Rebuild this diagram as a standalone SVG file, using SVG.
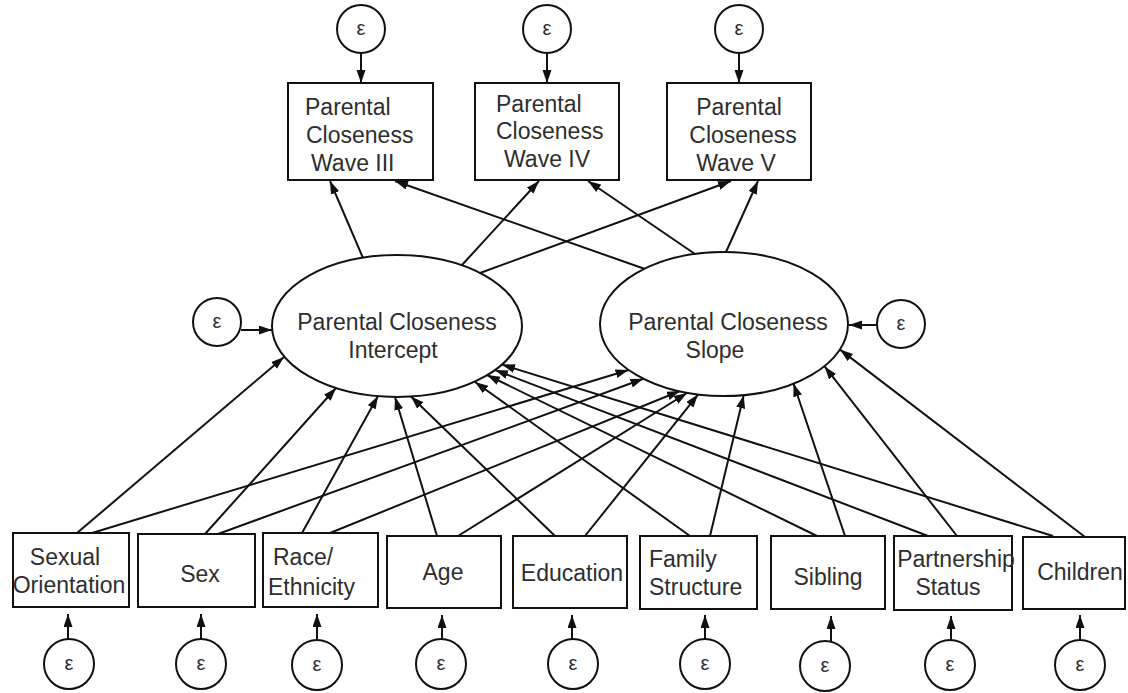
<svg xmlns="http://www.w3.org/2000/svg" width="1128" height="693" viewBox="0 0 1128 693">
<style>
.box{fill:#fff;stroke:#111;stroke-width:2}
.err{fill:#fff;stroke:#111;stroke-width:2}
.lat{fill:#fff;stroke:#111;stroke-width:2}
.t{font-family:"Liberation Sans",Arial,sans-serif;font-size:23px;fill:#2e2e2e}
.m{text-anchor:middle}
.e{font-family:"Liberation Sans",Arial,sans-serif;font-size:20px;fill:#2e2e2e;text-anchor:middle}
.c line{stroke:#111;stroke-width:2;marker-end:url(#ah)}
</style>
<defs>
<marker id="ah" markerUnits="userSpaceOnUse" markerWidth="14" markerHeight="10" refX="13" refY="4.5" orient="auto">
<path d="M0,0 L13,4.5 L0,9 z" fill="#111"/>
</marker>
</defs>
<rect width="1128" height="693" fill="#fff"/>

<g id="connectors" class="c">
<!-- error to top boxes -->
<line x1="361" y1="53" x2="361" y2="83"/>
<line x1="547" y1="53" x2="547" y2="83"/>
<line x1="739" y1="53" x2="739" y2="83"/>
<!-- latent to waves -->
<line x1="363" y1="258" x2="330" y2="181"/>
<line x1="462" y1="265" x2="539" y2="181"/>
<line x1="480" y1="273" x2="731" y2="181"/>
<line x1="645" y1="269" x2="395" y2="181"/>
<line x1="695" y1="254" x2="588" y2="181"/>
<line x1="726" y1="252" x2="758" y2="181"/>
<!-- latent errors -->
<line x1="241" y1="330" x2="272" y2="330"/>
<line x1="877" y1="325" x2="849" y2="325"/>
<!-- predictors to intercept -->
<line x1="77" y1="533" x2="284" y2="357"/>
<line x1="205" y1="534" x2="336" y2="388"/>
<line x1="302" y1="533" x2="378" y2="396"/>
<line x1="437" y1="536" x2="395" y2="397"/>
<line x1="555" y1="536" x2="411" y2="396.5"/>
<line x1="690" y1="536" x2="475" y2="382"/>
<line x1="817" y1="536" x2="487" y2="375"/>
<line x1="928" y1="536" x2="495" y2="370"/>
<line x1="1053" y1="536" x2="502" y2="364.6"/>
<!-- predictors to slope -->
<line x1="92" y1="533" x2="628.5" y2="370"/>
<line x1="218" y1="534" x2="643.4" y2="378.8"/>
<line x1="330" y1="533" x2="680" y2="391"/>
<line x1="458" y1="536" x2="687" y2="393"/>
<line x1="585" y1="536" x2="698" y2="394.6"/>
<line x1="710" y1="536" x2="743.7" y2="395.2"/>
<line x1="845" y1="536" x2="793.5" y2="383.5"/>
<line x1="957" y1="536" x2="824.6" y2="366.4"/>
<line x1="1085" y1="537" x2="840" y2="349.6"/>
<!-- errors to predictors -->
<line x1="68" y1="639" x2="68" y2="614"/>
<line x1="201" y1="639" x2="201" y2="614"/>
<line x1="317" y1="639" x2="317" y2="614"/>
<line x1="442" y1="639" x2="442" y2="615"/>
<line x1="572" y1="639" x2="572" y2="615"/>
<line x1="705" y1="639" x2="705" y2="615"/>
<line x1="831" y1="641" x2="831" y2="616"/>
<line x1="951" y1="641" x2="951" y2="616"/>
<line x1="1080" y1="641" x2="1080" y2="615"/>
</g>

<g id="wave3">
<rect class="box" x="288" y="83" width="145" height="97"/>
<text class="t" x="305" y="115">Parental</text>
<text class="t" x="306" y="143">Closeness</text>
<text class="t" x="311" y="171">Wave III</text>
</g>
<g id="wave4">
<rect class="box" x="475" y="83" width="144" height="97"/>
<text class="t" x="496" y="112">Parental</text>
<text class="t" x="496" y="139">Closeness</text>
<text class="t" x="504" y="167">Wave IV</text>
</g>
<g id="wave5">
<rect class="box" x="667" y="83" width="144" height="97"/>
<text class="t m" x="739" y="115">Parental</text>
<text class="t m" x="743" y="143">Closeness</text>
<text class="t m" x="736" y="171">Wave V</text>
</g>

<g id="err-w3"><circle class="err" cx="361" cy="29" r="24"/><text class="e" x="361" y="35">ε</text></g>
<g id="err-w4"><circle class="err" cx="547" cy="29" r="24"/><text class="e" x="547" y="35">ε</text></g>
<g id="err-w5"><circle class="err" cx="739" cy="29" r="24"/><text class="e" x="739" y="35">ε</text></g>

<g id="intercept">
<ellipse class="lat" cx="397" cy="326" rx="125" ry="71"/>
<text class="t m" x="397" y="330">Parental Closeness</text>
<text class="t m" x="393" y="358">Intercept</text>
</g>
<g id="slope">
<ellipse class="lat" cx="724" cy="324" rx="124" ry="72"/>
<text class="t m" x="728" y="330">Parental Closeness</text>
<text class="t m" x="715" y="358">Slope</text>
</g>
<g id="err-int"><circle class="err" cx="217" cy="322" r="24"/><text class="e" x="217" y="328">ε</text></g>
<g id="err-slope"><circle class="err" cx="901" cy="324" r="24"/><text class="e" x="901" y="330">ε</text></g>

<g id="sexor">
<rect class="box" x="13" y="533" width="116" height="74"/>
<text class="t m" x="65" y="565">Sexual</text>
<text class="t m" x="69" y="593">Orientation</text>
</g>
<g id="sex">
<rect class="box" x="138" y="534" width="117" height="73"/>
<text class="t m" x="200" y="582">Sex</text>
</g>
<g id="race">
<rect class="box" x="263" y="533" width="115" height="74"/>
<text class="t" x="273" y="565">Race/</text>
<text class="t" x="268" y="595">Ethnicity</text>
</g>
<g id="age">
<rect class="box" x="387" y="536" width="114" height="72"/>
<text class="t m" x="443" y="580">Age</text>
</g>
<g id="education">
<rect class="box" x="513" y="536" width="114" height="72"/>
<text class="t m" x="572" y="581">Education</text>
</g>
<g id="family">
<rect class="box" x="640" y="536" width="117" height="73"/>
<text class="t" x="649" y="567">Family</text>
<text class="t" x="649" y="595">Structure</text>
</g>
<g id="sibling">
<rect class="box" x="771" y="536" width="114" height="73"/>
<text class="t m" x="828" y="585">Sibling</text>
</g>
<g id="partnership">
<rect class="box" x="894" y="536" width="118" height="74"/>
<text class="t m" x="956" y="567">Partnership</text>
<text class="t m" x="948" y="595">Status</text>
</g>
<g id="children">
<rect class="box" x="1023" y="537" width="102" height="72"/>
<text class="t m" x="1080" y="580">Children</text>
</g>

<g id="err-b1"><circle class="err" cx="69" cy="664" r="25"/><text class="e" x="69" y="670">ε</text></g>
<g id="err-b2"><circle class="err" cx="201" cy="664" r="25"/><text class="e" x="201" y="670">ε</text></g>
<g id="err-b3"><circle class="err" cx="317" cy="665" r="25"/><text class="e" x="317" y="671">ε</text></g>
<g id="err-b4"><circle class="err" cx="441" cy="664" r="25"/><text class="e" x="441" y="670">ε</text></g>
<g id="err-b5"><circle class="err" cx="573" cy="664" r="25"/><text class="e" x="573" y="670">ε</text></g>
<g id="err-b6"><circle class="err" cx="705" cy="664" r="25"/><text class="e" x="705" y="670">ε</text></g>
<g id="err-b7"><circle class="err" cx="825" cy="666" r="25"/><text class="e" x="825" y="672">ε</text></g>
<g id="err-b8"><circle class="err" cx="950" cy="665" r="25"/><text class="e" x="950" y="671">ε</text></g>
<g id="err-b9"><circle class="err" cx="1080" cy="665" r="25"/><text class="e" x="1080" y="671">ε</text></g>
</svg>
